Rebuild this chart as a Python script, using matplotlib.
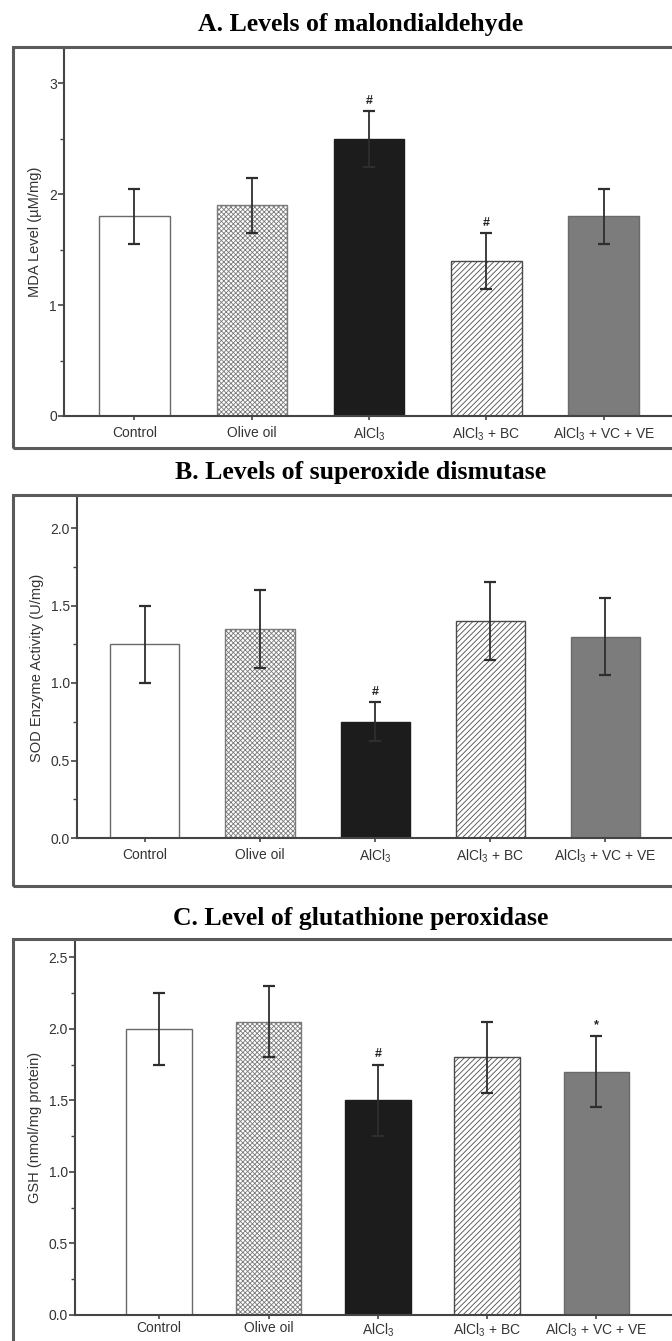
import matplotlib
matplotlib.use("Agg")
import matplotlib.pyplot as plt
from matplotlib.patches import Rectangle
import numpy as np

plt.rcParams['font.family'] = ['Liberation Sans', 'DejaVu Sans']
plt.rcParams['hatch.linewidth'] = 0.6

groups = ['Control', 'Olive oil', r'AlCl$_\mathregular{3}$',
          r'AlCl$_\mathregular{3}$ + BC', r'AlCl$_\mathregular{3}$ + VC + VE']

# A. MDA
mda_mean = [1.80, 1.90, 2.50, 1.40, 1.80]
mda_err = [0.25, 0.25, 0.25, 0.25, 0.25]
mda_mark = ['', '', '#', '#', '']

# B. SOD
sod_mean = [1.25, 1.35, 0.75, 1.40, 1.30]
sod_err = [0.25, 0.25, 0.125, 0.25, 0.25]
sod_mark = ['', '', '#', '', '']

# C. GSH
gsh_mean = [2.00, 2.05, 1.50, 1.80, 1.70]
gsh_err = [0.25, 0.25, 0.25, 0.25, 0.25]
gsh_mark = ['', '', '#', '', '*']

# bar styles: facecolor, hatch, edgecolor
styles = [
    ('white', None, '#6a6a6a'),
    ('white', 'xxxxxxx', '#7a7a7a'),
    ('#1c1c1c', None, '#1c1c1c'),
    ('white', '//////', '#4a4a4a'),
    ('#7c7c7c', None, '#6a6a6a'),
]

W, H = 672, 1341
fig = plt.figure(figsize=(W / 100, H / 100), dpi=100)


def px_rect(x0, y0, x1, y1):
    # pixel box (top-left origin) -> figure fraction [l, b, w, h]
    return [x0 / W, 1 - y1 / H, (x1 - x0) / W, (y1 - y0) / H]


def panel(axrect, boxrect, title, title_y, means, errs, marks, ylabel,
          ylim, major, xlim, xpad=4):
    box = Rectangle((boxrect[0], boxrect[1]), boxrect[2], boxrect[3],
                    transform=fig.transFigure, fill=False,
                    edgecolor='#5a5a5a', linewidth=2.2, clip_on=False)
    fig.patches.append(box)
    fig.text(0.536, title_y, title, ha='center', va='center',
             family='Liberation Serif', weight='bold', fontsize=18.5)

    ax = fig.add_axes(axrect)
    x = np.arange(len(means))
    for i in x:
        fc, hatch, ec = styles[i]
        ax.bar(i, means[i], width=0.6, color=fc, edgecolor=ec,
               hatch=hatch, linewidth=1.0, zorder=2)
    ax.errorbar(x, means, yerr=errs, fmt='none', ecolor='#2e2e2e',
                elinewidth=1.3, capsize=4, capthick=1.6, zorder=3)
    for i in x:
        if marks[i]:
            ax.text(i, means[i] + errs[i] + 0.012 * ylim, marks[i],
                    ha='center', va='bottom', fontsize=9, weight='bold',
                    color='#222222')

    ax.set_xlim(*xlim)
    ax.set_ylim(0, ylim)
    ax.set_yticks(np.arange(0, ylim, major))
    ax.set_yticks(np.arange(major / 2, ylim, major), minor=True)
    if major < 1:
        ax.set_yticklabels([f'{v:.1f}' for v in np.arange(0, ylim, major)])
    ax.set_xticks(x)
    ax.set_xticklabels(groups)
    ax.set_ylabel(ylabel, fontsize=10.5, color='#333333', labelpad=5)

    for s in ['top', 'right']:
        ax.spines[s].set_visible(False)
    for s in ['left', 'bottom']:
        ax.spines[s].set_color('#444444')
        ax.spines[s].set_linewidth(1.5)
    ax.tick_params(axis='y', which='major', direction='out', length=4,
                   width=1.2, color='#444444', labelsize=10,
                   labelcolor='#333333', pad=1)
    ax.tick_params(axis='y', which='minor', direction='out', length=3,
                   width=1.0, color='#444444')
    ax.tick_params(axis='x', direction='inout', length=6, width=1.2,
                   color='#444444', labelsize=10, labelcolor='#333333',
                   pad=xpad)
    return ax


panel(px_rect(64, 48, 674, 416), px_rect(13, 47, 690, 448),
      'A. Levels of malondialdehyde', 1 - 25 / H,
      mda_mean, mda_err, mda_mark, 'MDA Level (\u00b5M/mg)',
      3.32, 1, (-0.6, 4.6))

panel(px_rect(77, 497, 672, 838), px_rect(13, 495, 690, 886),
      'B. Levels of superoxide dismutase', 1 - 473 / H,
      sod_mean, sod_err, sod_mark, 'SOD Enzyme Activity (U/mg)',
      2.2, 0.5, (-0.59, 4.58))

panel(px_rect(75, 940, 673, 1315), px_rect(13, 939, 690, 1360),
      'C. Level of glutathione peroxidase', 1 - 918 / H,
      gsh_mean, gsh_err, gsh_mark, 'GSH (nmol/mg protein)',
      2.62, 0.5, (-0.77, 4.7), xpad=1.5)

fig.savefig('out.png', dpi=100)
